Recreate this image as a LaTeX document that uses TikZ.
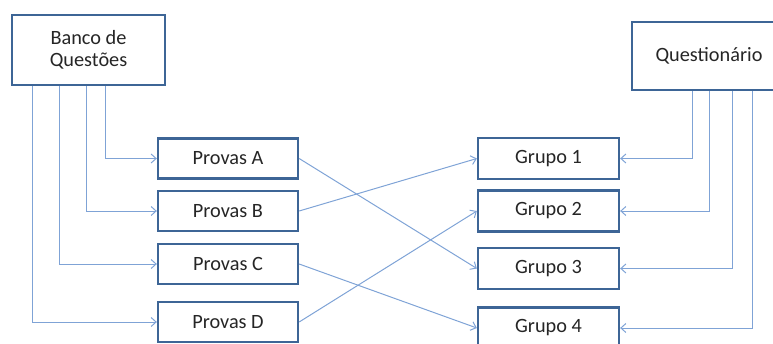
\documentclass[tikz,border=0pt]{standalone}
\usepackage{fontspec}
\setmainfont{Carlito}
\usetikzlibrary{arrows.meta}
\definecolor{boxc}{HTML}{3D6596}
\definecolor{linec}{HTML}{7FA3D6}
\begin{document}
\begin{tikzpicture}[x=1pt,y=-1pt,
  box/.style={draw=boxc,line width=2.3pt,fill=white,inner sep=0pt,font=\fontsize{20.3}{22}\selectfont,align=center,text=black!85},
  conn/.style={draw=linec,line width=1pt,-{Straight Barb[length=5pt,width=9pt]}}]
\useasboundingbox (0,0) rectangle (773,343);
\begin{scope}
\clip (0,0) rectangle (773,343);
\node[box,minimum width=153pt,minimum height=70pt] (banco) at (88.5,50) {Banco de\\Questões};
\node[box,minimum width=154pt,minimum height=68pt] (quest) at (709,56) {Questionário};
\foreach \n/\t/\y in {pa/Provas A/158.5, pb/Provas B/211, pc/Provas C/264, pd/Provas D/322}
  \node[box,minimum width=140pt,minimum height=40pt] (\n) at (228,\y) {\t};
\foreach \n/\t/\y in {g1/Grupo 1/158.5, g2/Grupo 2/211, g3/Grupo 3/268.5, g4/Grupo 4/328}
  \node[box,minimum width=141pt,minimum height=41pt] (\n) at (548.5,\y) {\t};
% from Banco
\draw[conn] (banco.south -| 105,0) |- (pa.west);
\draw[conn] (banco.south -| 86,0) |- (pb.west);
\draw[conn] (banco.south -| 59,0) |- (pc.west);
\draw[conn] (banco.south -| 32,0) |- (pd.west);
% from Questionario
\draw[conn] (quest.south -| 692,0) |- (g1.east);
\draw[conn] (quest.south -| 709,0) |- (g2.east);
\draw[conn] (quest.south -| 732,0) |- (g3.east);
\draw[conn] (quest.south -| 752,0) |- (g4.east);
% crossings
\draw[conn] (pa.east) -- (g3.west);
\draw[conn] (pb.east) -- (g1.west);
\draw[conn] (pc.east) -- (g4.west);
\draw[conn] (pd.east) -- (g2.west);
\end{scope}
\end{tikzpicture}
\end{document}
